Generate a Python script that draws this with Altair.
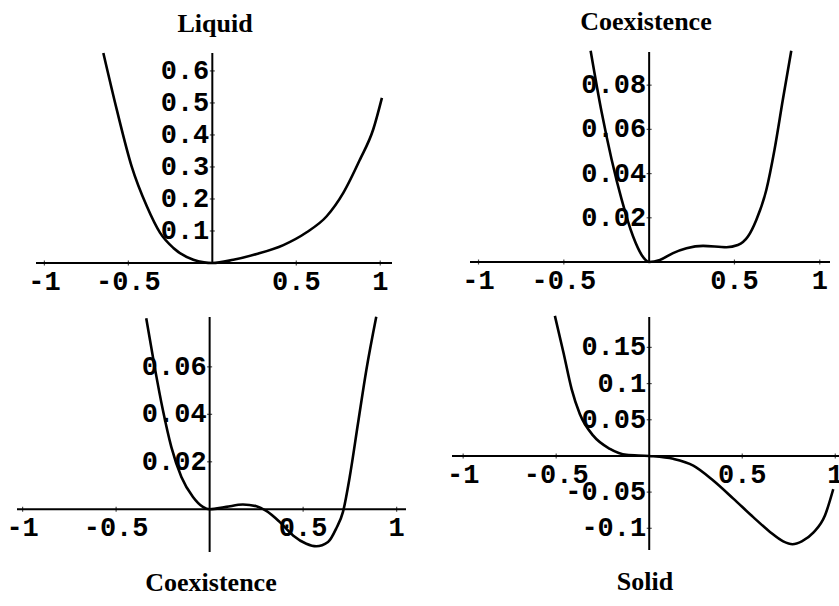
import altair as alt
import pandas as pd

# ---- curve samples (order parameter x, free energy y) ----
liquid_x = [-0.649, -0.569, -0.48, -0.39, -0.311, -0.232, -0.113, -0.05, 0.0,
            0.125, 0.264, 0.423, 0.562, 0.681, 0.78, 0.879, 0.958, 1.01]
liquid_y = [0.656, 0.479, 0.301, 0.177, 0.094, 0.047, 0.010, 0.002, 0.0,
            0.010, 0.028, 0.056, 0.096, 0.146, 0.219, 0.323, 0.417, 0.516]

coex_top_x = [-0.343, -0.278, -0.220, -0.161, -0.094, -0.044, 0.0, 0.063, 0.140,
              0.219, 0.316, 0.453, 0.520, 0.579, 0.628, 0.687, 0.735, 0.784, 0.833]
coex_top_y = [0.0956, 0.0676, 0.0464, 0.0282, 0.0115, 0.0032, 0.0, 0.0009, 0.004,
              0.0062, 0.0073, 0.0067, 0.0077, 0.0115, 0.019, 0.0327, 0.0509, 0.0736, 0.0956]

coex_bot_x = [-0.339, -0.294, -0.25, -0.205, -0.151, -0.089, -0.036, 0.0, 0.089,
              0.178, 0.25, 0.303, 0.374, 0.446, 0.517, 0.57, 0.633, 0.677, 0.713,
              0.749, 0.793, 0.838, 0.891]
coex_bot_y = [0.0805, 0.060, 0.0418, 0.0263, 0.0136, 0.0052, 0.001, 0.0, 0.001,
              0.002, 0.0013, -0.0007, -0.0053, -0.011, -0.0145, -0.0156, -0.0138,
              -0.0081, -0.0011, 0.0136, 0.036, 0.0587, 0.0811]

solid_x = [-0.507, -0.461, -0.417, -0.373, -0.301, -0.211, -0.122, 0.0, 0.129,
           0.237, 0.344, 0.452, 0.559, 0.649, 0.72, 0.77, 0.82, 0.882, 0.945, 0.989]
solid_y = [0.1935, 0.143, 0.0924, 0.058, 0.028, 0.0097, 0.0014, 0.0, -0.004,
           -0.0134, -0.034, -0.059, -0.0846, -0.105, -0.118, -0.122, -0.118, -0.106,
           -0.082, -0.046]

# ---- tick values and labels ----
x_ticks = [-1, -0.5, 0.5, 1]
x_tick_labels = ["-1", "-0.5", "0.5", "1"]

liquid_yticks = [0.1, 0.2, 0.3, 0.4, 0.5, 0.6]
liquid_ylabels = ["0.1", "0.2", "0.3", "0.4", "0.5", "0.6"]
coex_top_yticks = [0.02, 0.04, 0.06, 0.08]
coex_top_ylabels = ["0.02", "0.04", "0.06", "0.08"]
coex_bot_yticks = [0.02, 0.04, 0.06]
coex_bot_ylabels = ["0.02", "0.04", "0.06"]
solid_yticks = [-0.1, -0.05, 0.05, 0.1, 0.15]
solid_ylabels = ["-0.1", "-0.05", "0.05", "0.1", "0.15"]

# ---- panel layout: plot ranges and their pixel placement on the page ----
panels = [
    dict(title="Liquid", xs=liquid_x, ys=liquid_y,
         xdom=[-1.05, 1.07], xrng=[36, 392], ydom=[0.0, 0.656], yrng=[263, 53],
         yt=liquid_yticks, yl=liquid_ylabels, tpos=(215, 32)),
    dict(title="Coexistence", xs=coex_top_x, ys=coex_top_y,
         xdom=[-1.05, 1.06], xrng=[470, 830], ydom=[0.0, 0.095], yrng=[262, 52],
         yt=coex_top_yticks, yl=coex_top_ylabels, tpos=(646, 30)),
    dict(title="Coexistence", xs=coex_bot_x, ys=coex_bot_y,
         xdom=[-1.03, 1.05], xrng=[17, 406], ydom=[-0.018, 0.081], yrng=[552, 317],
         yt=coex_bot_yticks, yl=coex_bot_ylabels, tpos=(211, 591)),
    dict(title="Solid", xs=solid_x, ys=solid_y,
         xdom=[-1.06, 1.02], xrng=[452, 839], ydom=[-0.13, 0.192], yrng=[550, 317],
         yt=solid_yticks, yl=solid_ylabels, tpos=(645, 590)),
]

MONO = "Liberation Mono"
SERIF = "Liberation Serif"
LABEL_SIZE = 27


def panel_layers(p):
    xs = alt.Scale(domain=p["xdom"], range=p["xrng"], nice=False, zero=False)
    ys = alt.Scale(domain=p["ydom"], range=p["yrng"], nice=False, zero=False)

    def X(field):
        return alt.X(field, type="quantitative", scale=xs, axis=None)

    def Y(field):
        return alt.Y(field, type="quantitative", scale=ys, axis=None)

    curve = pd.DataFrame({"x": p["xs"], "y": p["ys"]})
    xaxis = pd.DataFrame({"a": [p["xdom"][0]], "b": [p["xdom"][1]], "y": [0.0]})
    yaxis = pd.DataFrame({"x": [0.0], "a": [p["ydom"][0]], "b": [p["ydom"][1]]})
    ylab = pd.DataFrame({"x": [0.0] * len(p["yt"]), "y": p["yt"], "t": p["yl"]})
    xlab = pd.DataFrame({"x": x_ticks, "y": [0.0] * len(x_ticks), "t": x_tick_labels})
    ttl = pd.DataFrame({"t": [p["title"]]})

    layers = [
        alt.Chart(ylab).mark_text(align="right", baseline="middle", dx=-3,
                                  font=MONO, fontWeight="bold", fontSize=LABEL_SIZE,
                                  color="black")
        .encode(x=X("x"), y=Y("y"), text="t:N"),
        alt.Chart(xlab).mark_text(align="center", baseline="alphabetic", dy=27,
                                  font=MONO, fontWeight="bold", fontSize=LABEL_SIZE,
                                  color="black")
        .encode(x=X("x"), y=Y("y"), text="t:N"),
        alt.Chart(ylab).mark_tick(orient="horizontal", size=5, thickness=1.2, color="black")
        .encode(x=X("x"), y=Y("y")),
        alt.Chart(xlab).mark_tick(orient="vertical", size=5, thickness=1.2, color="black")
        .encode(x=X("x"), y=Y("y")),
        alt.Chart(xaxis).mark_rule(color="black", strokeWidth=2)
        .encode(x=X("a"), x2="b", y=Y("y")),
        alt.Chart(yaxis).mark_rule(color="black", strokeWidth=2)
        .encode(x=X("x"), y=Y("a"), y2="b"),
        alt.Chart(curve).mark_line(color="black", strokeWidth=2.6, interpolate="monotone")
        .encode(x=X("x"), y=Y("y")),
        alt.Chart(ttl).mark_text(align="center", baseline="alphabetic", font=SERIF,
                                 fontWeight="bold", fontSize=26, color="black")
        .encode(x=alt.value(p["tpos"][0]), y=alt.value(p["tpos"][1]), text="t:N"),
    ]
    return layers


all_layers = []
for p in panels:
    all_layers.extend(panel_layers(p))

chart = (
    alt.layer(*all_layers)
    .resolve_scale(x="independent", y="independent")
    .properties(width=839, height=606, padding=0,
                autosize=alt.AutoSizeParams(type="none"), background="white")
    .configure_view(strokeWidth=0)
)

chart.save("out.html", embed_options={"renderer": "svg", "actions": False})
